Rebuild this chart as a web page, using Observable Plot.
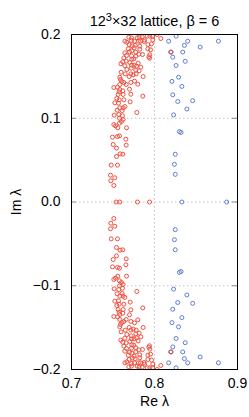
<!DOCTYPE html>
<html><head><meta charset="utf-8">
<script src="https://cdn.jsdelivr.net/npm/d3@7"></script>
<script src="https://cdn.jsdelivr.net/npm/@observablehq/plot@0.6"></script>
<style>body{margin:0;background:#fff}</style>
</head><body><div id="chart"></div>
<script>
const titleBase = "12";
const titleSup = "3";
const titleRest = "×32 lattice, β = 6";
const xLabel = "Re λ";
const yLabel = "Im λ";
const xTicks = [0.7, 0.8, 0.9];
const yTicks = [-0.2, -0.1, 0, 0.1, 0.2];
const xGrid = [0.8];
const yGrid = [-0.1, 0, 0.1];

const redRe = [
0.7691,0.7723,0.7791,0.7815,0.7851,0.7880,0.7912,0.7944,0.7976,0.8032,0.8076,0.7980,0.7643,0.7667,0.7723,0.7759,0.7807,0.7831,0.7876,0.7920,0.7964,0.7695,0.7731,0.7767,0.7823,0.7683,0.7755,0.7823,0.7920,0.7952,0.7643,0.7699,0.7727,0.7775,0.7811,0.7855,0.7944,0.7663,0.7723,0.7775,0.7631,0.7727,0.7751,0.7932,0.7940,0.7618,0.7594,0.7659,0.7703,0.7803,0.7643,0.7723,0.7755,0.7783,0.7835,0.7719,0.7775,0.7667,0.7815,0.7598,0.7647,0.7715,0.7743,0.7779,0.7863,0.7582,0.7695,0.7590,0.7606,0.7631,0.7715,0.7759,0.7799,0.7659,0.7582,0.7510,0.7554,0.7582,0.7618,0.7699,0.7574,0.7562,0.7622,0.7715,0.7859,0.7546,0.7574,0.7631,0.7522,0.7566,0.7707,0.7582,0.7622,0.7643,0.7550,0.7610,0.7787,0.7514,0.7570,0.7614,0.7578,0.7622,0.8195,
0.7510,0.7530,0.7602,0.7578,0.7558,0.7663,0.7494,0.7554,0.7578,0.7655,0.7502,0.7659,0.7542,0.7586,0.7618,0.7542,0.7478,0.7554,0.7470,0.7522,0.7474,0.7510,
0.7538,0.7582,0.7795,0.7940,
0.7691,0.7723,0.7791,0.7815,0.7851,0.7880,0.7912,0.7944,0.7976,0.8032,0.8076,0.7980,0.7643,0.7667,0.7723,0.7759,0.7807,0.7831,0.7876,0.7920,0.7964,0.7695,0.7731,0.7767,0.7823,0.7683,0.7755,0.7823,0.7920,0.7952,0.7643,0.7699,0.7727,0.7775,0.7811,0.7855,0.7944,0.7663,0.7723,0.7775,0.7631,0.7727,0.7751,0.7932,0.7940,0.7618,0.7594,0.7659,0.7703,0.7803,0.7643,0.7723,0.7755,0.7783,0.7835,0.7719,0.7775,0.7667,0.7815,0.7598,0.7647,0.7715,0.7743,0.7779,0.7863,0.7582,0.7695,0.7590,0.7606,0.7631,0.7715,0.7759,0.7799,0.7659,0.7582,0.7510,0.7554,0.7582,0.7618,0.7699,0.7574,0.7562,0.7622,0.7715,0.7859,0.7546,0.7574,0.7631,0.7522,0.7566,0.7707,0.7582,0.7622,0.7643,0.7550,0.7610,0.7787,0.7514,0.7570,0.7614,0.7578,0.7622,0.8195,
0.7510,0.7530,0.7602,0.7578,0.7558,0.7663,0.7494,0.7554,0.7578,0.7655,0.7502,0.7659,0.7542,0.7586,0.7618,0.7542,0.7478,0.7554,0.7470,0.7522,0.7474,0.7510
];
const redIm = [
0.1968,0.196,0.196,0.1968,0.1972,0.1936,0.198,0.198,0.198,0.200,0.1952,0.1936,0.192,0.1908,0.1928,0.192,0.192,0.192,0.1916,0.188,0.1888,0.188,0.1864,0.1872,0.186,0.1829,0.1841,0.1825,0.1829,0.1817,0.1781,0.1793,0.1805,0.1789,0.1765,0.1761,0.1757,0.1749,0.1745,0.1741,0.1721,0.1705,0.1709,0.1733,0.1717,0.1674,0.165,0.1682,0.1666,0.1658,0.1626,0.1634,0.1634,0.1622,0.161,0.1598,0.1574,0.1582,0.1566,0.155,0.153,0.153,0.1518,0.153,0.1498,0.149,0.1498,0.1463,0.1439,0.1427,0.1427,0.1443,0.1407,0.1403,0.1403,0.1367,0.1371,0.1343,0.1327,0.1347,0.1315,0.1284,0.1284,0.1287,0.1264,0.1236,0.122,0.122,0.1184,0.118,0.1196,0.1124,0.1124,0.114,0.1096,0.1092,0.1069,0.1037,0.1045,0.1029,0.1001,0.0985,0.179,
0.0925,0.0909,0.0961,0.0941,0.0886,0.0886,0.0774,0.0782,0.079,0.075,0.0687,0.0679,0.0643,0.0575,0.0571,0.0543,0.044,0.044,0.032,0.0289,0.0253,0.0197,
0,0,0,0,
-0.1968,-0.196,-0.196,-0.1968,-0.1972,-0.1936,-0.198,-0.198,-0.198,-0.200,-0.1952,-0.1936,-0.192,-0.1908,-0.1928,-0.192,-0.192,-0.192,-0.1916,-0.188,-0.1888,-0.188,-0.1864,-0.1872,-0.186,-0.1829,-0.1841,-0.1825,-0.1829,-0.1817,-0.1781,-0.1793,-0.1805,-0.1789,-0.1765,-0.1761,-0.1757,-0.1749,-0.1745,-0.1741,-0.1721,-0.1705,-0.1709,-0.1733,-0.1717,-0.1674,-0.165,-0.1682,-0.1666,-0.1658,-0.1626,-0.1634,-0.1634,-0.1622,-0.161,-0.1598,-0.1574,-0.1582,-0.1566,-0.155,-0.153,-0.153,-0.1518,-0.153,-0.1498,-0.149,-0.1498,-0.1463,-0.1439,-0.1427,-0.1427,-0.1443,-0.1407,-0.1403,-0.1403,-0.1367,-0.1371,-0.1343,-0.1327,-0.1347,-0.1315,-0.1284,-0.1284,-0.1287,-0.1264,-0.1236,-0.122,-0.122,-0.1184,-0.118,-0.1196,-0.1124,-0.1124,-0.114,-0.1096,-0.1092,-0.1069,-0.1037,-0.1045,-0.1029,-0.1001,-0.0985,-0.179,
-0.0925,-0.0909,-0.0961,-0.0941,-0.0886,-0.0886,-0.0774,-0.0782,-0.079,-0.075,-0.0687,-0.0679,-0.0643,-0.0575,-0.0571,-0.0543,-0.044,-0.044,-0.032,-0.0289,-0.0253,-0.0197
];

const blueRe = [
0.826,0.817,0.840,0.877,0.836,0.855,0.820,0.834,0.822,0.837,0.826,0.829,0.821,0.833,0.822,0.846,0.828,0.839,0.823,0.830,0.832,0.825,0.824,0.825,
0.833,0.887,
0.826,0.817,0.840,0.877,0.836,0.855,0.820,0.834,0.822,0.837,0.826,0.829,0.821,0.833,0.822,0.846,0.828,0.839,0.823,0.830,0.832,0.825,0.824,0.825
];
const blueIm = [
0.198,0.192,0.192,0.192,0.187,0.185,0.179,0.179,0.173,0.168,0.163,0.149,0.144,0.138,0.128,0.121,0.120,0.111,0.104,0.084,0.083,0.057,0.045,0.033,
0,0,
-0.198,-0.192,-0.192,-0.192,-0.187,-0.185,-0.179,-0.179,-0.173,-0.168,-0.163,-0.149,-0.144,-0.138,-0.128,-0.121,-0.120,-0.111,-0.104,-0.084,-0.083,-0.057,-0.045,-0.033
];

const red = redRe.map((x, i) => ({x, y: redIm[i]}));
const blue = blueRe.map((x, i) => ({x, y: blueIm[i]}));
const fmt = d => (d < 0 ? "\u2212" : "") + Math.abs(d).toFixed(1);

const plot = Plot.plot({
  width: 249, height: 417,
  marginTop: 34, marginRight: 12, marginBottom: 48, marginLeft: 71,
  style: {fontFamily: "'Liberation Sans', Arial, sans-serif", fontSize: "14px", color: "black", background: "white"},
  x: {domain: [0.7, 0.9]},
  y: {domain: [-0.2, 0.2]},
  marks: [
    Plot.gridX(xGrid, {stroke: "#c4c4c4", strokeOpacity: 1, strokeDasharray: "1.5,2.5"}),
    Plot.gridY(yGrid, {stroke: "#c4c4c4", strokeOpacity: 1, strokeDasharray: "1.5,2.5"}),
    Plot.tickY(yGrid, {insetRight: 161, stroke: "#888"}),
    Plot.tickY(yGrid, {insetLeft: 161, stroke: "#888"}),
    Plot.tickX(xGrid, {insetBottom: 330, stroke: "#888"}),
    Plot.tickX(xGrid, {insetTop: 330, stroke: "#888"}),
    Plot.dot(blue, {x: "x", y: "y", r: 2, stroke: "#5b7fd0", strokeWidth: 1, clip: true}),
    Plot.dot(red, {x: "x", y: "y", r: 2, stroke: "#f0503f", strokeWidth: 1, clip: true}),
    Plot.frame({stroke: "black", strokeWidth: 1}),
    Plot.axisX(xTicks, {tickSize: 0, tickPadding: 9, tickFormat: fmt, label: xLabel, labelAnchor: "center", labelArrow: "none", labelOffset: 36}),
    Plot.axisY(yTicks, {tickSize: 0, tickPadding: 11, tickFormat: fmt, label: yLabel, labelAnchor: "center", labelArrow: "none", labelOffset: 60}),
    Plot.text([titleBase + titleSup + titleRest], {text: d => d, frameAnchor: "top", dy: -19, fontSize: 14.5, className: "chart-title"})
  ]
});
// render the exponent as a real superscript
const t = plot.querySelector("g.chart-title text");
if (t) {
  t.textContent = "";
  const ns = "http://www.w3.org/2000/svg";
  const a = document.createElementNS(ns, "tspan"); a.textContent = titleBase;
  const b = document.createElementNS(ns, "tspan"); b.textContent = titleSup;
  b.setAttribute("dy", "-5"); b.setAttribute("font-size", "11");
  const c = document.createElementNS(ns, "tspan"); c.textContent = titleRest;
  c.setAttribute("dy", "5");
  t.append(a, b, c);
}
document.getElementById("chart").appendChild(plot);
</script>
</body></html>
